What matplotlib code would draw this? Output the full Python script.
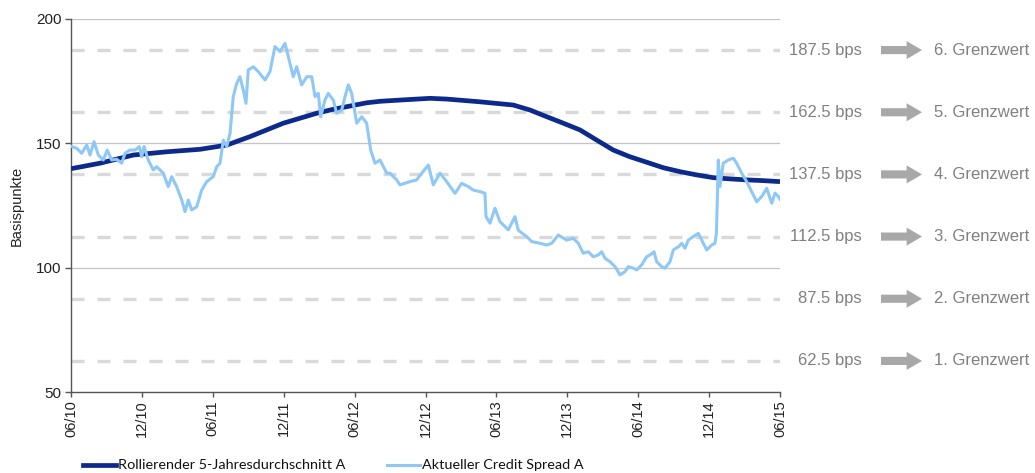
import numpy as np
import matplotlib
matplotlib.use("Agg")
import matplotlib.pyplot as plt
from matplotlib.lines import Line2D
from matplotlib.transforms import blended_transform_factory

# ---- data -------------------------------------------------------------
# x values are months since June 2010
spread_months = [
    0.06, 0.48, 0.91, 1.33, 1.61, 1.95, 2.31, 2.73, 3.07, 3.44, 3.87, 4.29,
    4.57, 4.99, 5.42, 5.78, 5.98, 6.18, 6.54, 6.96, 7.25, 7.81, 8.23, 8.52,
    8.94, 9.37, 9.65, 9.93, 10.21, 10.64, 11.06, 11.48, 12.04, 12.33, 12.61,
    12.89, 13.18, 13.46, 13.73, 14.02, 14.30, 14.58, 14.81, 15.00, 15.43,
    15.85, 16.42, 16.84, 17.26, 17.69, 18.11, 18.39, 18.81, 19.10, 19.52,
    19.95, 20.37, 20.65, 20.93, 21.13, 21.49, 21.77, 22.20, 22.48, 22.91,
    23.19, 23.47, 23.75, 24.18, 24.60, 25.02, 25.36, 25.73, 26.15, 26.72,
    26.99, 27.56, 27.84, 28.69, 29.25, 29.68, 30.24, 30.66, 31.23, 31.79,
    32.50, 33.06, 33.62, 34.04, 34.61, 35.03, 35.12, 35.46, 35.88, 36.30,
    37.01, 37.57, 37.85, 38.00, 38.56, 38.99, 39.69, 40.26, 40.68, 41.24,
    41.95, 42.51, 42.93, 43.35, 43.78, 44.20, 44.62, 44.91, 45.19, 45.61,
    46.04, 46.46, 46.88, 47.16, 47.58, 47.87, 48.29, 48.72, 49.00, 49.34,
    49.56, 49.99, 50.27, 50.69, 50.97, 51.40, 51.68, 51.96, 52.24, 52.66,
    53.09, 53.37, 53.80, 54.22, 54.50, 54.62, 54.78, 54.92, 55.20, 55.62,
    56.05, 56.33, 56.76, 57.18, 57.60, 58.03, 58.45, 58.88, 59.30, 59.58,
    59.86, 60.00,
]
spread_values = [
    148.7, 148.0, 146.0, 149.3, 145.3, 150.7, 145.3, 143.3, 147.3, 143.3,
    143.6, 142.0, 146.0, 147.3, 147.3, 148.7, 144.6, 148.7, 143.3, 139.3,
    140.6, 138.0, 132.6, 136.6, 132.6, 127.2, 122.5, 127.2, 123.2, 124.5,
    131.2, 134.6, 136.6, 140.6, 142.0, 151.3, 148.7, 154.0, 168.8, 174.1,
    176.8, 171.5, 166.1, 179.5, 180.8, 178.8, 175.5, 178.8, 188.9, 186.9,
    190.2, 184.8, 176.8, 180.8, 173.5, 176.8, 176.8, 168.8, 170.1, 160.7,
    167.4, 170.1, 167.4, 162.1, 163.4, 168.8, 173.5, 170.1, 158.1, 160.7,
    158.1, 147.3, 142.0, 143.3, 138.0, 138.0, 135.3, 133.3, 134.6, 135.3,
    138.0, 141.3, 133.3, 138.0, 134.6, 129.9, 133.9, 132.6, 131.2, 130.6,
    129.9, 120.5, 117.9, 123.9, 118.5, 115.2, 120.5, 115.2, 114.5, 112.5,
    110.5, 109.8, 109.1, 109.8, 113.1, 111.1, 111.8, 109.8, 105.8, 106.4,
    104.4, 105.1, 106.4, 103.8, 102.4, 100.4, 97.1, 98.4, 100.4, 99.8,
    99.1, 101.1, 104.4, 105.1, 106.4, 102.4, 100.4, 99.8, 102.4, 107.1,
    108.4, 109.8, 107.8, 111.1, 112.5, 113.8, 111.1, 107.1, 109.1, 109.8,
    113.9, 143.3, 132.6, 142.0, 143.3, 144.0, 142.0, 138.0, 134.6, 130.6,
    126.5, 128.6, 131.9, 125.9, 130.0, 128.6, 127.5,
]

avg_months = [
    0.0, 2.45, 5.27, 8.10, 10.92, 13.18, 15.15, 16.56, 17.97, 19.38, 20.79,
    22.20, 23.61, 25.02, 26.15, 27.84, 30.38, 31.79, 34.61, 37.43, 38.84,
    40.26, 41.66, 43.07, 44.49, 45.89, 47.30, 48.72, 50.12, 51.54, 52.95,
    54.35, 55.77, 57.18, 58.58, 60.0,
]
avg_values = [
    139.8, 142.0, 145.3, 146.6, 147.6, 149.3, 152.7, 155.4, 158.1, 160.1,
    162.1, 163.7, 165.0, 166.3, 166.9, 167.4, 168.1, 167.8, 166.7, 165.4,
    163.4, 160.7, 158.1, 155.4, 151.3, 147.3, 144.6, 142.4, 140.2, 138.6,
    137.3, 136.2, 135.7, 135.3, 135.0, 134.6,
]

tick_labels = ["06/10", "12/10", "06/11", "12/11", "06/12", "12/12",
               "06/13", "12/13", "06/14", "12/14", "06/15"]
thresholds = [62.5, 87.5, 112.5, 137.5, 162.5, 187.5]
threshold_names = ["1. Grenzwert", "2. Grenzwert", "3. Grenzwert",
                   "4. Grenzwert", "5. Grenzwert", "6. Grenzwert"]

# ---- styling ----------------------------------------------------------
DARK = "#0b2a8c"
LIGHT = "#8ec8f6"
GREY_TXT = "#808080"
GREY_ARROW = "#a8a8a8"

plt.rcParams["font.family"] = ["Liberation Sans", "DejaVu Sans"]

W, H = 1035, 473
fig = plt.figure(figsize=(W / 100, H / 100), dpi=100)
ax = fig.add_axes([71 / W, 1 - 392 / H, (780 - 71) / W, (392 - 19) / H])

ax.set_xlim(0, 60)
ax.set_ylim(50, 200)

# solid grid at the major ticks
for y in (100, 150, 200):
    ax.axhline(y, color="#c4c4c4", lw=0.9, zorder=1)

# dashed threshold lines
for y in thresholds:
    ax.axhline(y, color="#d9d9d9", lw=2.4, zorder=1,
               linestyle=(0, (3.9, 3.9)), dash_capstyle="butt")

ax.plot(avg_months, avg_values, color=DARK, lw=3.4, zorder=3,
        solid_capstyle="butt", solid_joinstyle="round")
ax.plot(spread_months, spread_values, color=LIGHT, lw=2.2, zorder=4,
        solid_joinstyle="round")

# axes cosmetics
for side in ("top", "right"):
    ax.spines[side].set_visible(False)
for side in ("left", "bottom"):
    ax.spines[side].set_color("#555555")
    ax.spines[side].set_linewidth(1.0)

ax.set_yticks([50, 100, 150, 200])
ax.set_xticks(np.arange(0, 61, 6))
ax.set_xticklabels(tick_labels, rotation=90)
ax.tick_params(axis="y", length=4, width=1.0, color="#555555",
               labelsize=11, pad=3, labelcolor="#222222")
ax.tick_params(axis="x", length=3.5, width=1.0, color="#555555",
               labelsize=10.5, pad=2.5, labelcolor="#222222")

ax.set_ylabel("Basispunkte", fontsize=10.5, color="#222222")
ax.yaxis.set_label_coords(-0.076, 0.5)
ax.yaxis.label.set_va("center")

# threshold annotations on the right
trans = blended_transform_factory(fig.transFigure, ax.transData)
for y, name in zip(thresholds, threshold_names):
    ax.text(862 / W, y, f"{y:.1f} bps", transform=trans, ha="right",
            va="center", fontsize=12, color=GREY_TXT, clip_on=False)
    ax.annotate("", xy=(922 / W, y), xytext=(881 / W, y),
                xycoords=trans, textcoords=trans, annotation_clip=False,
                arrowprops=dict(arrowstyle="simple,head_length=0.85,"
                                "head_width=1.0,tail_width=0.45",
                                mutation_scale=13, color=GREY_ARROW,
                                shrinkA=0, shrinkB=0, lw=0))
    ax.text(934 / W, y, name, transform=trans, ha="left", va="center",
            fontsize=12, color=GREY_TXT, clip_on=False)

# legend along the bottom edge
leg_y = 1 - 465 / H
legend_items = [
    (83, 116, 118, DARK, 3.4, "Rollierender 5-Jahresdurchschnitt A"),
    (387, 420, 422, LIGHT, 2.2, "Aktueller Credit Spread A"),
]
for x0, x1, xt, col, lw, label in legend_items:
    fig.add_artist(Line2D([x0 / W, x1 / W], [leg_y, leg_y], color=col,
                          lw=lw, transform=fig.transFigure))
    fig.text(xt / W, 4 / H, label, ha="left", va="baseline",
             fontsize=10.4, family=["Lato", "DejaVu Sans"], color="#111111")

fig.savefig("out.png", dpi=100)
